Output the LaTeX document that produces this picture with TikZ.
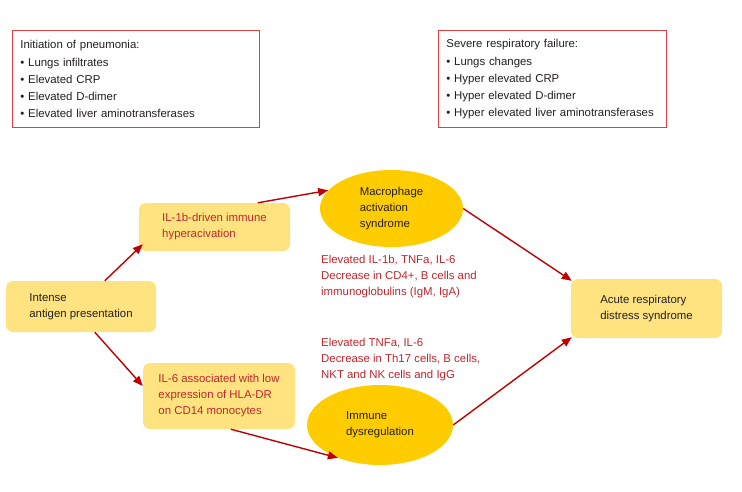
\documentclass[tikz,border=0pt]{standalone}
\usepackage{fontspec}
\setmainfont{Liberation Sans}
\usetikzlibrary{arrows.meta,shapes.geometric,calc}
\definecolor{boxfill}{HTML}{FFE380}
\definecolor{ellfill}{HTML}{FFCC00}
\definecolor{txtred}{HTML}{C0272D}
\definecolor{arrred}{HTML}{C00000}
\definecolor{framered}{HTML}{E0403F}
\definecolor{txtdark}{HTML}{231F20}
\begin{document}
\begin{tikzpicture}[x=1pt,y=-1pt,
  every node/.style={font=\fontsize{11.4}{16}\selectfont},
  infobox/.style={draw=framered,line width=0.8pt,fill=white,text=txtdark,
    font=\fontsize{11.4}{17}\selectfont,
    minimum height=97pt,inner xsep=8pt,inner ysep=0pt,align=left,anchor=north west},
  ybox/.style={fill=boxfill,rounded corners=7pt,inner sep=0pt,align=left},
  yell/.style={ellipse,fill=ellfill,inner sep=0pt,align=left,text=txtdark},
  redlabel/.style={text=txtred,align=left,inner sep=0pt,anchor=north west},
  arr/.style={draw=arrred,line width=1.4pt,-{Triangle[length=10pt,width=8pt]}}]
\useasboundingbox[fill=white] (0,0) rectangle (742,491);

\node[infobox,text width=231pt] (init) at (12,30)
 {Initiation of pneumonia:\\[1pt] • Lungs infiltrates\\ • Elevated CRP\\ • Elevated D-dimer\\ • Elevated liver aminotransferases};
\node[infobox,text width=212pt] (severe) at (438,30)
 {Severe respiratory failure:\\[1pt] • Lungs changes\\ • Hyper elevated CRP\\ • Hyper elevated D-dimer\\ • Hyper elevated liver aminotransferases};

\node[ybox,text=txtdark,minimum width=150pt,minimum height=51pt] (intense) at (81,306.5)
 {Intense\\antigen presentation};
\node[ybox,text=txtred,minimum width=151pt,minimum height=48pt] (il1b) at (214.5,227)
 {IL-1b-driven immune\\hyperacivation};
\node[ybox,text=txtred,minimum width=152pt,minimum height=66pt] (il6) at (219,396)
 {IL-6 associated with low\\expression of HLA-DR\\on CD14 monocytes};
\node[ybox,text=txtdark,minimum width=151pt,minimum height=59pt] (ards) at (646.5,308.5)
 {Acute respiratory\\distress syndrome};
\node[yell,minimum width=143pt,minimum height=77pt] (mas) at (391.5,208.5)
 {Macrophage\\activation\\syndrome};
\node[yell,minimum width=146pt,minimum height=80pt] (immune) at (380,425)
 {Immune\\dysregulation};

\node[redlabel] (lab1) at (321,255)
 {Elevated IL-1b, TNFa, IL-6\\Decrease in CD4+, B cells and\\immunoglobulins (IgM, IgA)};
\node[redlabel] (lab2) at (321,338.5)
 {Elevated TNFa, IL-6\\Decrease in Th17 cells, B cells,\\NKT and NK cells and IgG};

\draw[arr] ($(intense.north west)+(99,0)$) -- ($(il1b.south west)+(4,-7)$);
\draw[arr] ($(il1b.north west)+(119,0)$) -- (mas.164);
\draw[arr] (mas.east) -- ($(ards.north west)+(1,2)$);
\draw[arr] ($(intense.south west)+(89,0)$) -- ($(il6.west)+(0,-10)$);
\draw[arr] ($(il6.south west)+(88,0)$) -- (immune.218);
\draw[arr] (immune.east) -- ($(ards.south west)+(1,-1)$);
\end{tikzpicture}
\end{document}
